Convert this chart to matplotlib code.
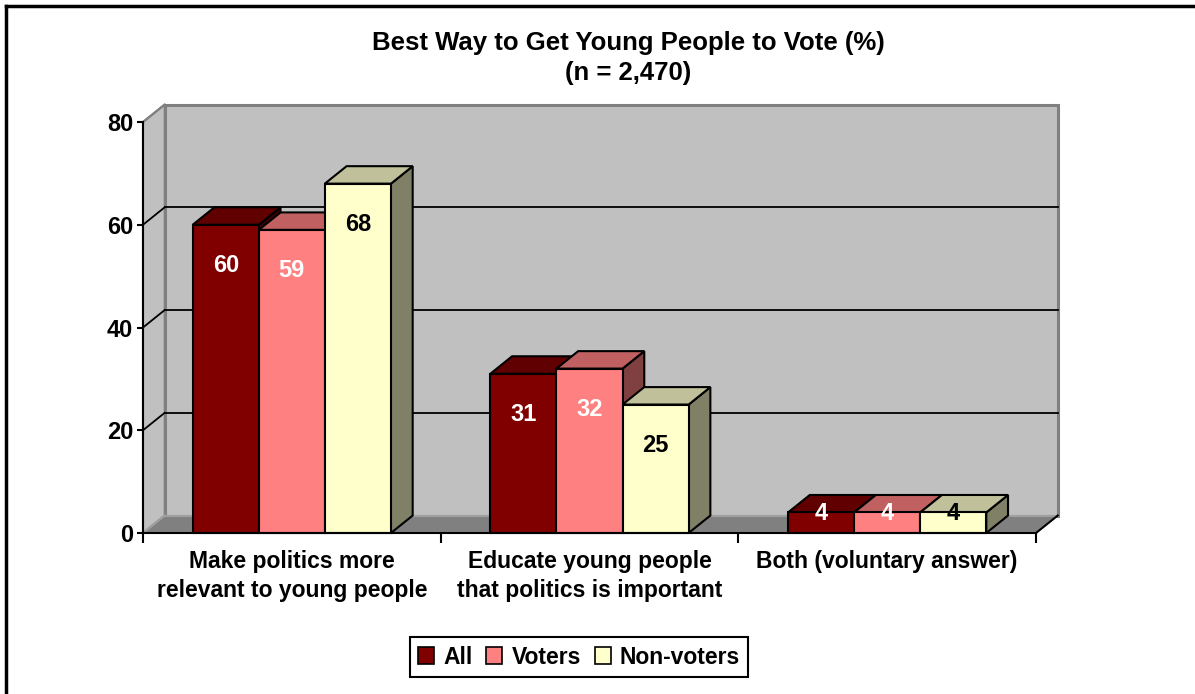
import matplotlib
matplotlib.use('Agg')
import matplotlib.pyplot as plt
from matplotlib.patches import Polygon, Patch
from matplotlib.lines import Line2D
import numpy as np

plt.rcParams['font.family'] = ['Liberation Sans', 'DejaVu Sans']
plt.rcParams['font.weight'] = 'bold'

# ---------------- data ----------------
categories = ["Make politics more\nrelevant to young people",
              "Educate young people\nthat politics is important",
              "Both (voluntary answer)"]
series_names = ["All", "Voters", "Non-voters"]
all_vals = [60, 31, 4]
voters_vals = [59, 32, 4]
nonvoters_vals = [68, 25, 4]
yticks = [0, 20, 40, 60, 80]
title_line1 = "Best Way to Get Young People to Vote (%)"
title_line2 = "(n = 2,470)"

# ---------------- style ----------------
front_colors = ['#800000', '#FF8080', '#FFFFCC']
top_colors = ['#600000', '#C06060', '#C0C09A']
side_colors = ['#400000', '#804040', '#808066']
label_colors = ['white', 'white', 'black']

W, H = 1195, 694
fig = plt.figure(figsize=(W / 100, H / 100), dpi=100)
ax = fig.add_axes([143 / W, 1 - 533 / H, 893 / W, 411 / H])
ax.set_xlim(-0.5, 2.5)
ax.set_ylim(0, 80)
ax.patch.set_visible(False)

dx = 0.073   # depth offset (category units)
dy = 3.4     # depth offset (value units)
x_lo, x_hi = -0.5, 2.5
y_top = yticks[-1]

# walls and floor
back = Polygon([(x_lo + dx, dy), (x_hi + dx, dy), (x_hi + dx, y_top + dy), (x_lo + dx, y_top + dy)],
               closed=True, fc='#C0C0C0', ec='#808080', lw=2.2, zorder=1, clip_on=False)
side = Polygon([(x_lo, 0), (x_lo + dx, dy), (x_lo + dx, y_top + dy), (x_lo, y_top)],
               closed=True, fc='#C0C0C0', ec='#808080', lw=1.5, zorder=1, clip_on=False)
floor = Polygon([(x_lo, 0), (x_hi, 0), (x_hi + dx, dy), (x_lo + dx, dy)],
                closed=True, fc='#808080', ec='none', zorder=1.2, clip_on=False)
ax.add_patch(back)
ax.add_patch(side)
ax.add_patch(floor)
ax.plot([x_lo + dx, x_hi + dx], [dy, dy], color='#A0A0A0', lw=1.5, zorder=1.3, clip_on=False)
ax.plot([x_lo, x_lo + dx], [0, dy], color='#A0A0A0', lw=1.5, zorder=1.3, clip_on=False)
ax.plot([x_hi, x_hi + dx], [0, dy], color='black', lw=1.5, zorder=1.3, clip_on=False)

for g in yticks[1:-1]:
    ax.plot([x_lo + dx, x_hi + dx], [g + dy, g + dy], color='black', lw=1.3, zorder=1.5, clip_on=False)
    ax.plot([x_lo, x_lo + dx], [g, g + dy], color='black', lw=1.3, zorder=1.5, clip_on=False)
ax.plot([x_lo, x_lo + dx], [y_top, y_top + dy], color='#808080', lw=1.5, zorder=1.5, clip_on=False)

# bars
series = [all_vals, voters_vals, nonvoters_vals]
bw = 0.222
z = 5
for ci in range(len(categories)):
    for si, vals in enumerate(series):
        v = vals[ci]
        xc = ci + (si - 1) * bw
        x0, x1 = xc - bw / 2, xc + bw / 2
        sidef = Polygon([(x1, 0), (x1 + dx, dy), (x1 + dx, v + dy), (x1, v)], closed=True,
                        fc=side_colors[si], ec='black', lw=1.5, zorder=z, clip_on=False)
        topf = Polygon([(x0, v), (x1, v), (x1 + dx, v + dy), (x0 + dx, v + dy)], closed=True,
                       fc=top_colors[si], ec='black', lw=1.5, zorder=z, clip_on=False)
        front = Polygon([(x0, 0), (x1, 0), (x1, v), (x0, v)], closed=True,
                        fc=front_colors[si], ec='black', lw=1.5, zorder=z + 0.5, clip_on=False)
        ax.add_patch(sidef)
        ax.add_patch(topf)
        ax.add_patch(front)
        z += 1
        ly = v - 8.0 if v >= 10 else v - 0.3
        ax.text(xc, ly, str(v), ha='center', va='center', color=label_colors[si],
                fontsize=17, fontweight='bold', zorder=100)

# axes
for s in ['top', 'right']:
    ax.spines[s].set_visible(False)
for s in ['left', 'bottom']:
    ax.spines[s].set_color('black')
    ax.spines[s].set_linewidth(1.5)
    ax.spines[s].set_zorder(50)

ax.set_yticks(yticks)
ax.set_yticklabels([str(t) for t in yticks])
ax.tick_params(axis='y', direction='out', length=4, width=1.5, labelsize=17, pad=3)
ax.set_xticks(range(len(categories)))
ax.set_xticklabels(categories, linespacing=1.35)
ax.set_xticks([-0.5, 0.5, 1.5, 2.5], minor=True)
ax.tick_params(axis='x', which='major', length=0, pad=12, labelsize=16.5)
ax.tick_params(axis='x', which='minor', direction='out', length=7, width=1.5)

# title
fig.text(628 / W, 1 - 43 / H, title_line1, ha='center', va='center', fontsize=18.5, fontweight='bold')
fig.text(628 / W, 1 - 73 / H, title_line2, ha='center', va='center', fontsize=18.5, fontweight='bold')

# legend
handles = [Patch(fc=c, ec='black', lw=1.2) for c in front_colors]
leg = fig.legend(handles, series_names, loc='center', bbox_to_anchor=(579 / W, 1 - 657 / H),
                 bbox_transform=fig.transFigure, ncol=3, frameon=True, fancybox=False,
                 edgecolor='black', framealpha=1, borderpad=0.35, handlelength=0.7,
                 handleheight=0.7, handletextpad=0.4, columnspacing=0.6,
                 prop={'size': 16.5, 'weight': 'bold'})
leg.get_frame().set_linewidth(1.5)

# outer border (cropped box)
fig.add_artist(Line2D([6 / W, 6 / W], [0, 1 - 6 / H], transform=fig.transFigure, color='black', lw=2.5))
fig.add_artist(Line2D([6 / W, 1], [1 - 6 / H, 1 - 6 / H], transform=fig.transFigure, color='black', lw=2.5))

fig.savefig('out.png', dpi=100)
